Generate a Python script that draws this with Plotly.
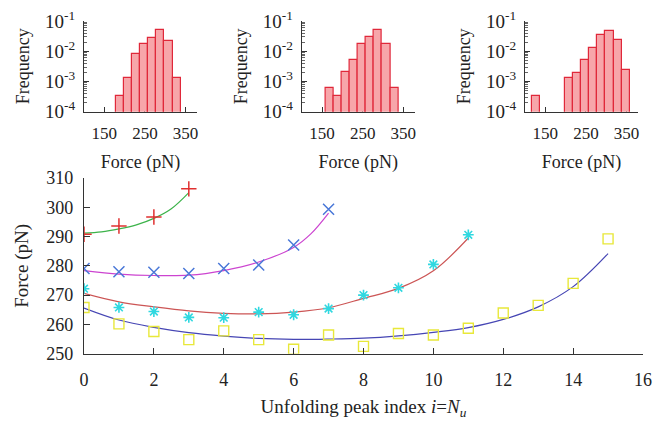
import plotly.graph_objects as go

# histogram insets (bin centres in pN, frequency)
hist1_centers = [188, 208, 228, 248, 268, 288, 308, 328]
hist1_freq = [3.2e-4, 1.3e-3, 7.9e-3, 1.8e-2, 2.7e-2, 5.1e-2, 2.1e-2, 1.3e-3]
hist2_centers = [168, 188, 208, 228, 248, 268, 288, 308, 328]
hist2_freq = [6.2e-4, 3.1e-4, 2.1e-3, 5.1e-3, 1.8e-2, 3.0e-2, 5.1e-2, 1.8e-2, 6.2e-4]
hist3_centers = [128, 208, 228, 248, 268, 288, 308, 328, 348]
hist3_freq = [3.2e-4, 1.3e-3, 1.9e-3, 5.1e-3, 1.3e-2, 3.5e-2, 4.7e-2, 2.4e-2, 2.4e-3]

# main panel: measured peak forces
plus_x = [0, 1, 2, 3]
plus_y = [290.8, 293.6, 296.7, 306.3]
cross_x = [0, 1, 2, 3, 4, 5, 6, 7]
cross_y = [279.1, 278.0, 277.8, 277.4, 279.1, 280.3, 287.1, 299.3]
star_x = [0, 1, 2, 3, 4, 5, 6, 7, 8, 9, 10, 11]
star_y = [272.2, 265.8, 264.4, 262.4, 262.3, 264.2, 263.3, 265.4, 270.0, 272.5, 280.5, 290.6]
sq_x = [0, 1, 2, 3, 4, 5, 6, 7, 8, 9, 10, 11, 12, 13, 14, 15]
sq_y = [265.8, 260.2, 257.6, 254.8, 257.8, 254.8, 251.5, 256.4, 252.5, 256.9, 256.4, 258.7, 263.9, 266.5, 274.0, 289.2]

# fitted curves
fit1_x = [0, 0.5, 1, 1.5, 2, 2.5, 3]
fit1_y = [291.2, 291.6, 292.6, 294.0, 296.2, 299.5, 305.0]
fit2_x = [0, 1, 2, 3, 4, 5, 6, 6.5, 7]
fit2_y = [278.4, 277.2, 276.7, 276.8, 278.4, 281.3, 286.3, 291.0, 298.0]
fit3_x = [0, 1, 2, 3, 4, 5, 6, 7, 8, 9, 10, 11]
fit3_y = [270.6, 267.7, 266.0, 264.6, 263.8, 263.6, 264.2, 265.7, 268.9, 272.3, 278.3, 289.5]
fit4_x = [0, 1, 2, 3, 4, 5, 6, 7, 8, 9, 10, 11, 12, 13, 14, 15]
fit4_y = [265.6, 261.5, 259.0, 257.2, 256.0, 255.2, 254.9, 255.0, 255.3, 256.1, 257.3, 258.9, 261.7, 266.0, 272.9, 284.2]

# page body has an 8px margin, so the figure is a bit smaller and shifted
OFF = 8
W, H = 662 - OFF, 425 - OFF
serif = "Liberation Serif"
ink = "#222222"


def px_x(p):
    return (p - OFF) / W


def px_y(p):
    return 1 - (p - OFF) / H


fig = go.Figure()

bar_fill = "#f7a6aa"
bar_edge = "#e0283a"
for k, (cx, fy) in enumerate([(hist1_centers, hist1_freq),
                              (hist2_centers, hist2_freq),
                              (hist3_centers, hist3_freq)]):
    n = "" if k == 0 else str(k + 1)
    fig.add_trace(go.Bar(x=cx, y=fy, width=20, base=1e-5,
                         marker=dict(color=bar_fill, line=dict(color=bar_edge, width=1.2)),
                         xaxis="x" + n, yaxis="y" + n, showlegend=False))

main_x, main_y = "x4", "y4"
fig.add_trace(go.Scatter(x=fit1_x, y=fit1_y, mode="lines", line=dict(color="#3cb34a", width=1.2, shape="spline"),
                         xaxis=main_x, yaxis=main_y))
fig.add_trace(go.Scatter(x=fit2_x, y=fit2_y, mode="lines", line=dict(color="#cc44d0", width=1.2, shape="spline"),
                         xaxis=main_x, yaxis=main_y))
fig.add_trace(go.Scatter(x=fit3_x, y=fit3_y, mode="lines", line=dict(color="#cc5555", width=1.2, shape="spline"),
                         xaxis=main_x, yaxis=main_y))
fig.add_trace(go.Scatter(x=fit4_x, y=fit4_y, mode="lines", line=dict(color="#4646b4", width=1.2, shape="spline"),
                         xaxis=main_x, yaxis=main_y))

fig.add_trace(go.Scatter(x=plus_x, y=plus_y, mode="markers", xaxis=main_x, yaxis=main_y,
                         marker=dict(symbol="cross-thin-open", size=11, color="#e03030",
                                     line=dict(color="#e03030", width=1.5))))
fig.add_trace(go.Scatter(x=cross_x, y=cross_y, mode="markers", xaxis=main_x, yaxis=main_y,
                         marker=dict(symbol="x-thin-open", size=11, color="#4a78d8",
                                     line=dict(color="#4a78d8", width=1.5))))
fig.add_trace(go.Scatter(x=star_x, y=star_y, mode="markers", xaxis=main_x, yaxis=main_y,
                         marker=dict(symbol="asterisk-open", size=9, color="#30d8e0",
                                     line=dict(color="#30d8e0", width=1.6))))
fig.add_trace(go.Scatter(x=sq_x, y=sq_y, mode="markers", xaxis=main_x, yaxis=main_y,
                         marker=dict(symbol="square-open", size=10, color="#e8e83a",
                                     line=dict(color="#e8e83a", width=1.4))))

axcommon = dict(showline=True, linecolor="#333333", linewidth=1.2, showgrid=False, zeroline=False,
                ticks="inside", tickcolor="#333333", automargin=False, ticklabeloverflow="allow")

layout = dict(width=W, height=H, paper_bgcolor="white", plot_bgcolor="white",
              margin=dict(l=0, r=0, t=0, b=0), showlegend=False, bargap=0)

inset_left = [84, 301.7, 525]
for k, left in enumerate(inset_left):
    n = "" if k == 0 else str(k + 1)
    layout["xaxis" + n] = dict(axcommon, domain=[px_x(left), px_x(left + 113)], range=[100, 378],
                               anchor="y" + n, tickvals=[150, 250, 350], ticklen=5,
                               tickfont=dict(family=serif, size=17, color=ink),
                               layer="below traces", ticklabelstandoff=6,
                               title=dict(text="Force (pN)", font=dict(family=serif, size=18, color=ink),
                                          standoff=13))
    layout["yaxis" + n] = dict(axcommon, type="log", domain=[px_y(111.7), px_y(21)], range=[-4, -1],
                               anchor="x" + n, tickvals=[1e-4, 1e-3, 1e-2, 1e-1],
                               ticktext=["10<sup>-4</sup>", "10<sup>-3</sup>", "10<sup>-2</sup>", "10<sup>-1</sup>"],
                               tickfont=dict(family=serif, size=19, color=ink),
                               ticklen=5, minor=dict(ticks="inside", ticklen=3, dtick="D1", tickcolor="#666666"),
                               layer="below traces", ticklabelstandoff=4,
                               title=dict(text="Frequency", font=dict(family=serif, size=18, color=ink),
                                          standoff=10))

layout["xaxis4"] = dict(axcommon, domain=[px_x(84), px_x(643)], range=[0, 16], anchor="y4",
                        tickvals=list(range(0, 17, 2)), ticklen=6, ticklabelstandoff=10,
                        tickfont=dict(family=serif, size=18, color=ink),
                        title=dict(text="Unfolding peak index <i>i</i>=<i>N<sub>u</sub></i>",
                                   font=dict(family=serif, size=19, color=ink), standoff=10))
layout["yaxis4"] = dict(axcommon, domain=[px_y(353.7), px_y(178)], range=[250, 310], anchor="x4",
                        tickvals=list(range(250, 311, 10)), ticklen=6, ticklabelstandoff=6,
                        tickfont=dict(family=serif, size=18, color=ink),
                        title=dict(text="Force (pN)", font=dict(family=serif, size=19, color=ink), standoff=12))

fig.update_layout(**layout)
fig.write_html("out.html")
